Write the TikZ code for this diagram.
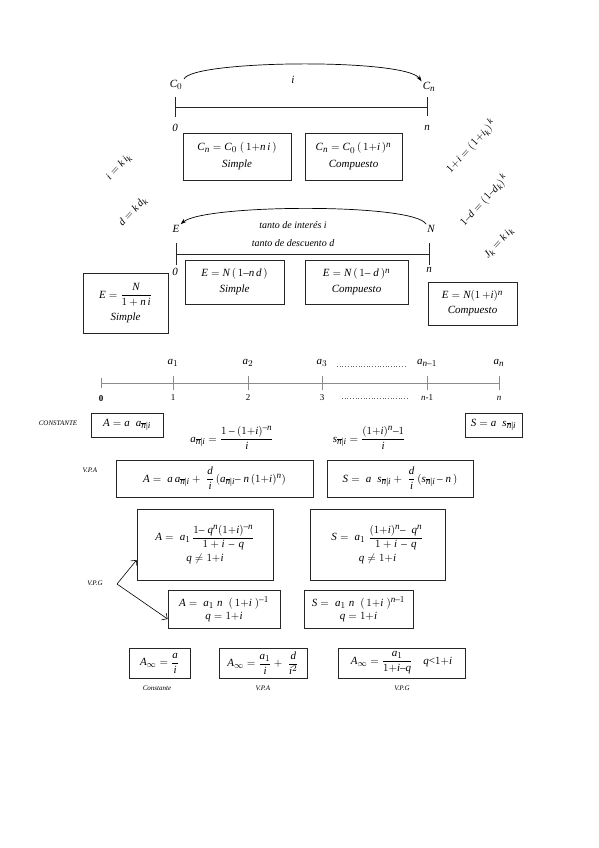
\documentclass[tikz,border=0pt]{standalone}
\usepackage{amsmath}
\usepackage{fontspec}
\setmainfont{Liberation Serif}
\usepackage[italic]{mathastext}
\usetikzlibrary{arrows.meta}
\newcommand{\ann}[1]{_{\overline{n}|#1}}
\begin{document}
\begin{tikzpicture}[x=1pt,y=-1pt,
  fbox/.style={draw=black!85, line width=0.8pt, align=center, inner sep=2pt, font=\fontsize{11}{13}\selectfont},
  lbl/.style={inner sep=1pt, font=\fontsize{11}{13}\selectfont\itshape},
  small/.style={inner sep=1pt, font=\fontsize{7}{8}\selectfont\itshape},
  rot/.style={inner sep=0pt, rotate=47, font=\fontsize{10.5}{12}\selectfont},
  axis/.style={line width=0.8pt, draw=black!85},
  gaxis/.style={line width=0.6pt, draw=black!45},
  dots/.style={dotted, line width=0.7pt, draw=black!60}]
\useasboundingbox (0,0) rectangle (599,848);

% ---------- top: capitalisation ----------
\node[lbl] (c0) at (176,85) {$C_0$};
\node[lbl] (cn) at (429,87) {$C_n$};
\draw[-{Stealth[length=6pt,width=4pt]}, line width=0.7pt] (184,79) .. controls (192,60) and (405,58) .. (cn.north west);
\node[lbl] (ti) at (293,80) {$i$};
\coordinate (t0) at (175,107);
\coordinate (tn) at (427,107);
\draw[axis] (t0) -- (tn);
\draw[axis] ([yshift=-10]t0) -- ([yshift=10]t0);
\draw[axis] ([yshift=-9]tn) -- ([yshift=10]tn);
\node[lbl] (z0) at (175,128) {0};
\node[lbl] (zn) at (427,128) {$n$};
\node[fbox, minimum width=108, minimum height=47] (b1) at (237,156.5)
  {$C_n = C_0\;(\,1{+}n\,i\,)$\\[4pt] \textit{Simple}};
\node[fbox, minimum width=97, minimum height=47] (b2) at (353.5,156.5)
  {$C_n = C_0\,(\,1{+}i\,)^n$\\[4pt] \textit{Compuesto}};

% ---------- rotated relations ----------
\node[rot] (r1) at (119,167) {$i = k\,i_k$};
\node[rot] (r2) at (133,212) {$d = k\,d_k$};
\node[rot] (r3) at (471,146) {$1{+}i = (1{+}i_k)^{\,k}$};
\node[rot] (r4) at (484,200) {$1{-}d = (1{-}d_k)^{\,k}$};
\node[rot] (r5) at (499,243) {$J_k = k\,i_k$};

% ---------- middle: discount ----------
\node[lbl] (e) at (176,229) {$E$};
\node[lbl] (nn) at (431,229) {$N$};
\draw[-{Stealth[length=6pt,width=4pt]}, line width=0.7pt] (nn.north west) .. controls (415,203) and (205,204) .. (e.north east);
\node[lbl, font=\fontsize{10}{12}\selectfont\itshape] (td1) at (293,225) {tanto de interés $i$};
\node[lbl, font=\fontsize{10}{12}\selectfont\itshape] (td2) at (293,243) {tanto de descuento $d$};
\coordinate (m0) at (176,254);
\coordinate (mn) at (429,254);
\draw[axis] (m0) -- (mn);
\draw[axis] ([yshift=-11]m0) -- ([yshift=11]m0);
\draw[axis] ([yshift=-11]mn) -- ([yshift=11]mn);
\node[lbl] (y0) at (175,272) {0};
\node[lbl] (yn) at (429,270) {$n$};
\node[fbox, minimum width=99, minimum height=44] (b3) at (234.5,282)
  {$E = N\,(\,1{-}n\,d\,)$\\[3pt] \textit{Simple}};
\node[fbox, minimum width=103, minimum height=44] (b4) at (356.5,282)
  {$E = N\,(\,1{-}\;d\,)^n$\\[3pt] \textit{Compuesto}};
\node[fbox, minimum width=85, minimum height=60] (b5) at (125.5,303)
  {$E = \dfrac{N}{1+n\,i}$\\[5pt] \textit{Simple}};
\node[fbox, minimum width=89, minimum height=43] (b6) at (472.5,303.5)
  {$E = N(1\,{+}i)^n$\\[2pt] \textit{Compuesto}};

% ---------- rent time line ----------
\coordinate (p0) at (101,383);
\coordinate (p1) at (173,383);
\coordinate (p2) at (248,383);
\coordinate (p3) at (322,383);
\coordinate (p4) at (427,383);
\coordinate (p5) at (499,383);
\draw[gaxis] (p0) -- (p5);
\draw[gaxis] ([yshift=-5]p0) -- ([yshift=5]p0);
\foreach \p in {p1,p2,p3,p4,p5} \draw[gaxis] ([yshift=-7]\p) -- ([yshift=7]\p);
\node[lbl] (a1) at (173,363) {$a_1$};
\node[lbl] (a2) at (248,363) {$a_2$};
\node[lbl] (a3) at (322,363) {$a_3$};
\node[lbl] (an1) at (427,363) {$a_{n-1}$};
\node[lbl] (an) at (499,363) {$a_n$};
\node[inner sep=1pt, font=\fontsize{9}{10}\selectfont\bfseries] (n0) at (101,399) {0};
\node[inner sep=1pt, font=\fontsize{9}{10}\selectfont] (n1) at (173,398) {1};
\node[inner sep=1pt, font=\fontsize{9}{10}\selectfont] (n2) at (248,398) {2};
\node[inner sep=1pt, font=\fontsize{9}{10}\selectfont] (n3) at (322,398) {3};
\node[inner sep=1pt, font=\fontsize{9}{10}\selectfont] (nn1) at (427,398) {\textit{n}-1};
\node[inner sep=1pt, font=\fontsize{9}{10}\selectfont] (nnn) at (499,398) {\textit{n}};
\draw[dots] (337,366) -- (407,366);
\draw[dots] (342,398) -- (407,398);

% ---------- constant rent ----------
\node[small] (kc) at (58,423) {CONSTANTE};
\node[fbox, minimum width=72, minimum height=24] (bc1) at (127,425) {$A = a\;\; a\ann{i}$};
\node[lbl, font=\fontsize{11}{13}\selectfont] (fa) at (232,438) {$a\ann{i} = \dfrac{1-(1{+}i)^{-n}}{i}$};
\node[lbl, font=\fontsize{11}{13}\selectfont] (fs) at (369,438) {$s\ann{i} = \dfrac{(1{+}i)^{n}{-}1}{i}$};
\node[fbox, minimum width=57, minimum height=24] (bc2) at (493.5,425) {$S = a\;\; s\ann{i}$};

% ---------- V.P.A ----------
\node[small] (kv) at (90,470) {V.P.A};
\node[fbox, minimum width=197, minimum height=37] (bv1) at (214.5,478.5)
  {$A = \;a\,a\ann{i} + \;\dfrac{d}{i}\,(a\ann{i}{-}\;n\,(1{+}i)^{n})$};
\node[fbox, minimum width=146, minimum height=37] (bv2) at (400,478.5)
  {$S = \;a\;\; s\ann{i} + \;\dfrac{d}{i}\,(s\ann{i}\,{-}\;n\,)$};

% ---------- V.P.G ----------
\node[small] (kg) at (95,583) {V.P.G};
\node[fbox, minimum width=136, minimum height=71] (bg1) at (205,544.5)
  {$A = \;a_1\,\dfrac{1{-}\;q^n(1{+}i)^{-n}}{1+i\,-\,q}$\\[3pt] $q \neq 1{+}i$};
\node[fbox, minimum width=135, minimum height=71] (bg2) at (377.5,544.5)
  {$S = \;a_1\;\dfrac{(1{+}i)^n{-}\;\;q^n}{1+i\,-\,q}$\\[3pt] $q \neq 1{+}i$};
\node[fbox, minimum width=112, minimum height=38] (bg3) at (224,609)
  {$A = \;a_1\; n\;\;(\,1{+}i\;)^{-1}$\\[0pt] $q = 1{+}i$};
\node[fbox, minimum width=109, minimum height=38] (bg4) at (358.5,609)
  {$S = \;a_1\; n\;\;(\,1{+}i\;)^{n-1}$\\[0pt] $q = 1{+}i$};
\coordinate (gv) at (117,584);
\draw[-{Straight Barb[length=4pt]}, line width=0.6pt] (gv) -- (bg1.south west |- 0,560);
\draw[-{Straight Barb[length=4pt]}, line width=0.6pt] (gv) -- (bg3.west |- 0,619);

% ---------- perpetuities ----------
\node[fbox, minimum width=61, minimum height=30] (bp1) at (159.5,663) {$A_\infty = \dfrac{a}{i}$};
\node[fbox, minimum width=88, minimum height=30] (bp2) at (263,663) {$A_\infty = \dfrac{a_1}{i} + \;\dfrac{d}{i^2}$};
\node[fbox, minimum width=127, minimum height=30] (bp3) at (401.5,663) {$A_\infty = \dfrac{a_1}{1{+}i{-}q}\quad q{<}1{+}i$};
\node[small] (lp1) at (157,688) {Constante};
\node[small] (lp2) at (263,688) {V.P.A};
\node[small] (lp3) at (402,688) {V.P.G};
\end{tikzpicture}
\end{document}
